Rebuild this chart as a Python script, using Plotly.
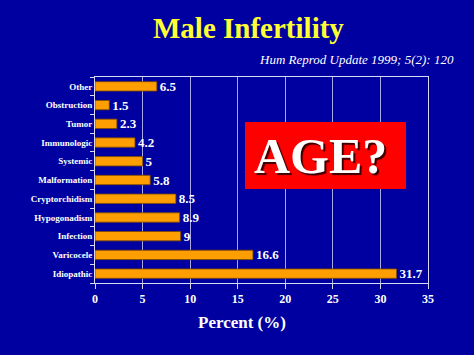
import plotly.graph_objects as go

categories = ["Idiopathic", "Varicocele", "Infection", "Hypogonadism", "Cryptorchidism",
              "Malformation", "Systemic", "Immunologic", "Tumor", "Obstruction", "Other"]
values = [31.7, 16.6, 9, 8.9, 8.5, 5.8, 5, 4.2, 2.3, 1.5, 6.5]
value_labels = ["31.7", "16.6", "9", "8.9", "8.5", "5.8", "5", "4.2", "2.3", "1.5", "6.5"]
x_ticks = [0, 5, 10, 15, 20, 25, 30, 35]

BG = "#0000A0"
SERIF = "Liberation Serif, Times New Roman, serif"

fig = go.Figure(go.Bar(
    y=categories, x=values, orientation="h",
    marker=dict(color="#FF9E00", line=dict(color="#7a4a00", width=0.8)),
    text=value_labels, textposition="outside", cliponaxis=False, constraintext="none",
    textfont=dict(family=SERIF, size=13, color="white", weight="bold"),
    width=0.5, hoverinfo="skip",
))

L, R, T, B = 95, 428, 77, 283
PW, PH = R - L, B - T

def px(x):
    return (x - L) / PW

def py(y):
    return (B - y) / PH

fig.update_layout(
    width=474, height=355,
    paper_bgcolor=BG, plot_bgcolor=BG,
    margin=dict(l=L, r=474 - R, t=T, b=355 - B),
    showlegend=False,
    xaxis=dict(range=[0, 35], tickvals=x_ticks, showgrid=True, gridcolor="#a8a8e8", gridwidth=1,
               zeroline=False, showline=True, linecolor="#d8d8f4", mirror=True,
               ticks="outside", tickcolor="#d8d8f4", ticklen=5,
               tickfont=dict(family=SERIF, size=12, color="white", weight="bold")),
    yaxis=dict(showgrid=False, showline=True, linecolor="#d8d8f4", mirror=True,
               ticks="outside", tickson="boundaries", tickcolor="#d8d8f4", ticklen=4,
               tickfont=dict(family=SERIF, size=9, color="white", weight="bold")),
)

fig.add_annotation(text="<b>Male Infertility</b>", x=px(248), y=py(28), xref="paper", yref="paper",
                   xanchor="center", yanchor="middle", showarrow=False,
                   font=dict(family=SERIF, size=29, color="#FFFF33"))
fig.add_annotation(text="<i>Hum Reprod Update 1999; 5(2): 120</i>", x=px(456), y=py(59),
                   xref="paper", yref="paper", xanchor="right", yanchor="middle", showarrow=False,
                   font=dict(family=SERIF, size=13, color="white"))
fig.add_annotation(text="<b>Percent (%)</b>", x=px(242), y=py(322), xref="paper", yref="paper",
                   xanchor="center", yanchor="middle", showarrow=False,
                   font=dict(family=SERIF, size=17, color="white"))

fig.add_shape(type="rect", xref="paper", yref="paper",
              x0=px(245), x1=px(406), y0=py(189), y1=py(122),
              fillcolor="#FF0000", line=dict(width=0))
fig.add_annotation(text="<b>AGE?</b>", x=px(320), y=py(156), xref="paper", yref="paper",
                   xanchor="center", yanchor="middle", showarrow=False,
                   font=dict(family=SERIF, size=50, color="white", shadow="2px 2px 1px #3a0000"))

fig.write_html("out.html", config={"displayModeBar": False},
               post_script="document.body.style.margin='0';")
